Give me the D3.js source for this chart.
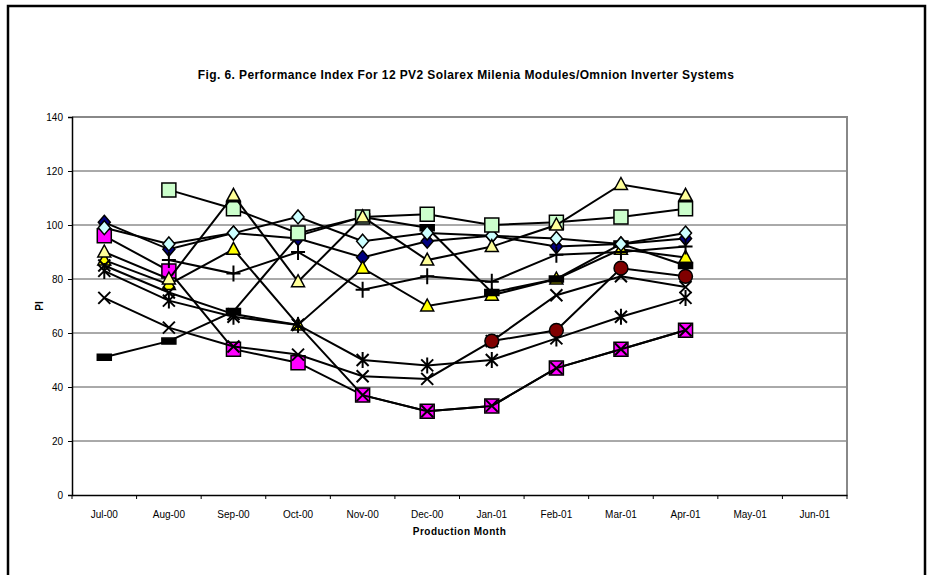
<!DOCTYPE html>
<html>
<head>
<meta charset="utf-8">
<script src="https://cdn.jsdelivr.net/npm/d3@7"></script>
<style>
  body { margin: 0; background: #fff; }
  text { font-family: Arial, "Liberation Sans", sans-serif; fill: #000; }
</style>
</head>
<body>
<div id="chart"></div>
<script>
const months = ["Jul-00", "Aug-00", "Sep-00", "Oct-00", "Nov-00", "Dec-00",
                "Jan-01", "Feb-01", "Mar-01", "Apr-01", "May-01", "Jun-01"];
const yTicks = [0, 20, 40, 60, 80, 100, 120, 140];

// PI values per system, Jul-00 .. Apr-01 (null = no data)
const sys1  = [101, 91, 97, 95, 88, 94, 96, 92, 93, 95];
const sys2  = [96, 83, 54, 49, 37, 31, 33, 47, 54, 61];
const sys3  = [87, 78, 91, 63, 84, 70, 74, 80, 91, 88];
const sys4  = [73, 62, 55, 52, 44, 43, 57, 74, 81, 77];
const sys5  = [83, 72, 66, 63, 50, 48, 50, 58, 66, 73];
const sys6  = [null, null, null, null, null, null, 57, 61, 84, 81];
const sys7  = [null, 87, 82, 90, 76, 81, 79, 89, 90, 92];
const sys8  = [51, 57, 68, 96, 103, 99, 75, 80, 93, 85];
const sys9  = [99, 93, 97, 103, 94, 97, 96, 95, 93, 97];
const sys10 = [null, 113, 106, 97, 103, 104, 100, 101, 103, 106];
const sys11 = [90, 80, 111, 79, 103, 87, 92, 100, 115, 111];
const sys12 = [85, 75, 67, 63, 37, 31, 33, 47, 54, 61];

const seriesList = [
  { values: sys1,  marker: "diamond",  fill: "#000080" },
  { values: sys2,  marker: "square",   fill: "#FF00FF" },
  { values: sys3,  marker: "triangle", fill: "#FFFF00" },
  { values: sys4,  marker: "x",        fill: "none" },
  { values: sys5,  marker: "star",     fill: "none" },
  { values: sys6,  marker: "circle",   fill: "#800000" },
  { values: sys7,  marker: "plus",     fill: "none" },
  { values: sys8,  marker: "dash",     fill: "#000" },
  { values: sys9,  marker: "diamond",  fill: "#CCFFFF" },
  { values: sys10, marker: "square",   fill: "#CCFFCC" },
  { values: sys11, marker: "triangle", fill: "#FFFF99" },
  { values: sys12, marker: "x",        fill: "none" }
];

const width = 937, height = 575;
const plot = { left: 72, right: 847, top: 117, bottom: 495 };

const svg = d3.select("#chart").append("svg")
  .attr("width", width)
  .attr("height", height);

// cornice esterna
svg.append("rect")
  .attr("x", 8).attr("y", 6)
  .attr("width", 917).attr("height", 580)
  .attr("fill", "#fff")
  .attr("stroke", "#000")
  .attr("stroke-width", 2.5);

svg.append("text")
  .attr("x", 466).attr("y", 79)
  .attr("text-anchor", "middle")
  .attr("font-size", 12)
  .attr("letter-spacing", 0.4)
  .attr("font-weight", "bold")
  .text("Fig. 6. Performance Index For 12 PV2 Solarex Milenia Modules/Omnion Inverter Systems");

const x = d3.scaleBand()
  .domain(months)
  .range([plot.left, plot.right]);

const y = d3.scaleLinear()
  .domain([0, 140])
  .range([plot.bottom, plot.top]);

const xc = i => x(months[i]) + x.bandwidth() / 2;

// gridlines
svg.append("g")
  .selectAll("line")
  .data(yTicks.filter(t => t > 0 && t < 140))
  .join("line")
  .attr("x1", plot.left).attr("x2", plot.right)
  .attr("y1", d => y(d)).attr("y2", d => y(d))
  .attr("stroke", "#555")
  .attr("stroke-width", 1);

// plot area border (top / right)
svg.append("path")
  .attr("d", `M${plot.left},${y(140)}H${plot.right}V${plot.bottom}`)
  .attr("fill", "none")
  .attr("stroke", "#888")
  .attr("stroke-width", 2);

// assi
const yAxis = d3.axisLeft(y).tickValues(yTicks).tickSize(4).tickPadding(5);
const gy = svg.append("g")
  .attr("transform", `translate(${plot.left},0)`)
  .call(yAxis);
gy.select(".domain").attr("stroke", "#000").attr("stroke-width", 1.5);
gy.selectAll("text").attr("font-size", 10).attr("font-family", "Arial, 'Liberation Sans', sans-serif");

const xAxis = d3.axisBottom(x).tickSize(0).tickPadding(16);
const gx = svg.append("g")
  .attr("transform", `translate(0,${plot.bottom})`)
  .call(xAxis);
gx.select(".domain").attr("stroke", "#000").attr("stroke-width", 1.5);
gx.selectAll("text").attr("font-size", 10).attr("font-family", "Arial, 'Liberation Sans', sans-serif");

// tick tra le categorie
svg.append("g")
  .selectAll("line")
  .data(d3.range(months.length + 1))
  .join("line")
  .attr("x1", i => plot.left + i * x.step())
  .attr("x2", i => plot.left + i * x.step())
  .attr("y1", plot.bottom).attr("y2", plot.bottom + 4)
  .attr("stroke", "#000");

svg.append("text")
  .attr("transform", `translate(43,${(plot.top + plot.bottom) / 2}) rotate(-90)`)
  .attr("text-anchor", "middle")
  .attr("font-size", 10)
  .attr("font-weight", "bold")
  .text("PI");

svg.append("text")
  .attr("x", (plot.left + plot.right) / 2).attr("y", 535)
  .attr("text-anchor", "middle")
  .attr("font-size", 10)
  .attr("letter-spacing", 0.5)
  .attr("font-weight", "bold")
  .text("Production Month");

// forme dei marker
function markerPath(type) {
  switch (type) {
    case "diamond":  return "M0,-7L6,0L0,7L-6,0Z";
    case "square":   return "M-7,-7H7V7H-7Z";
    case "triangle": return "M0,-7L6.5,5L-6.5,5Z";
    case "circle":   return d3.symbol(d3.symbolCircle, 150)();
    case "x":        return "M-6,-6L6,6M-6,6L6,-6";
    case "star":     return "M-6,-6L6,6M-6,6L6,-6M0,-8V8";
    case "plus":     return "M-7,0H7M0,-8V8";
    case "dash":     return "M-7,-3H7V3H-7Z";
  }
}

const line = d3.line()
  .defined(d => d != null)
  .x((d, i) => xc(i))
  .y(d => y(d));

seriesList.forEach(s => {
  const g = svg.append("g");
  g.append("path")
    .datum(s.values)
    .attr("d", line)
    .attr("fill", "none")
    .attr("stroke", "#000")
    .attr("stroke-width", 2);

  const pts = s.values.map((v, i) => ({ v, i })).filter(p => p.v != null);
  const open = s.marker === "x" || s.marker === "star" || s.marker === "plus";
  g.selectAll("path.mk")
    .data(pts)
    .join("path")
    .attr("class", "mk")
    .attr("transform", p => `translate(${xc(p.i)},${y(p.v)})`)
    .attr("d", markerPath(s.marker))
    .attr("fill", open ? "none" : s.fill)
    .attr("stroke", "#000")
    .attr("stroke-width", open ? 2 : 1.5);
});
</script>
</body>
</html>
